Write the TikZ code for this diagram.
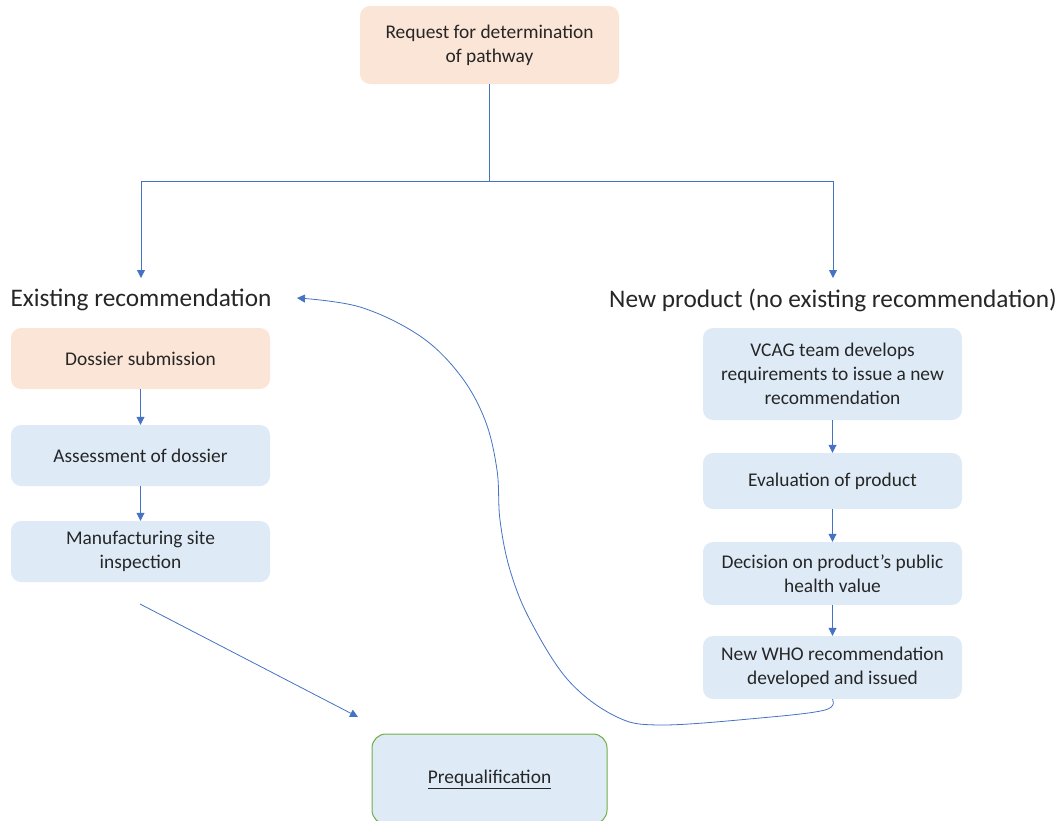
\documentclass[tikz,border=0pt]{standalone}
\usepackage{fontspec}
\setmainfont{Carlito}
\usetikzlibrary{arrows.meta}
\definecolor{peach}{HTML}{FBE5D6}
\definecolor{lblue}{HTML}{DEEBF7}
\definecolor{arrblue}{HTML}{4472C4}
\definecolor{grn}{HTML}{70AD47}
\begin{document}
\begin{tikzpicture}[x=1pt,y=-1pt,
  box/.style={rounded corners=10pt, minimum width=259pt, align=center, font=\fontsize{19.4}{24}\selectfont, text=black!85, inner sep=0pt},
  pbox/.style={box, fill=peach},
  bbox/.style={box, fill=lblue},
  head/.style={font=\fontsize{25.3}{30}\selectfont, text=black!85, inner sep=0pt},
  conn/.style={draw=arrblue, line width=0.8pt},
  arr/.style={conn, -{Triangle[width=8pt,length=8pt]}}]
\useasboundingbox (0,0) rectangle (1063,820);
% top
\node[pbox, minimum height=78pt] (req) at (489.5,45) {Request for determination\\of pathway};
\coordinate (jn) at (489.5,181);
\coordinate (lt) at (141,181);
\coordinate (rt) at (833,181);
\coordinate (la) at (141,278);
\coordinate (ra) at (833,278);
\draw[conn] (req.south) -- (jn);
\draw[arr] (jn) -- (lt) -- (la);
\draw[arr] (jn) -- (rt) -- (ra);
% headings
\node[head] (ex) at (141,300) {Existing recommendation};
\node[head] (np) at (833,300) {New product (no existing recommendation)};
% left column
\node[pbox, minimum height=61pt] (dos) at (140.5,358.5) {Dossier submission};
\node[bbox, minimum height=61pt] (ass) at (140.5,455.5) {Assessment of dossier};
\node[bbox, minimum height=61pt] (man) at (140.5,551.5) {Manufacturing site\\inspection};
\draw[arr] (dos) -- (ass);
\draw[arr] (ass) -- (man);
% right column
\node[bbox, minimum height=92pt] (vcag) at (832.5,374) {VCAG team develops\\requirements to issue a new\\recommendation};
\node[bbox, minimum height=56pt] (eva) at (832.5,481) {Evaluation of product};
\node[bbox, minimum height=63pt] (dec) at (832.5,573.5) {Decision on product’s public\\health value};
\node[bbox, minimum height=63pt] (who) at (832.5,667.5) {New WHO recommendation\\developed and issued};
\draw[arr] (vcag) -- (eva);
\draw[arr] (eva) -- (dec);
\draw[arr] (dec) -- (who);
% prequalification
\node[box, fill=lblue, draw=grn, line width=1pt, minimum width=235pt, minimum height=90pt, rounded corners=14pt] (pq) at (489.5,779) {\underline{Prequalification}};
\coordinate (ms) at (140,604);
\coordinate (pa) at (358,717);
\draw[arr] (ms) -- (pa);
% feedback curve
\coordinate (ce) at (297,298);
\draw[arr] plot[smooth, tension=0.6] coordinates {(who.south) (825,710) (760,718) (660,725) (615,716) (568,680) (530,620) (510,570) (500,520) (497,470) (485,420) (460,375) (420,336) (360,307) (ce)};
\end{tikzpicture}
\end{document}
